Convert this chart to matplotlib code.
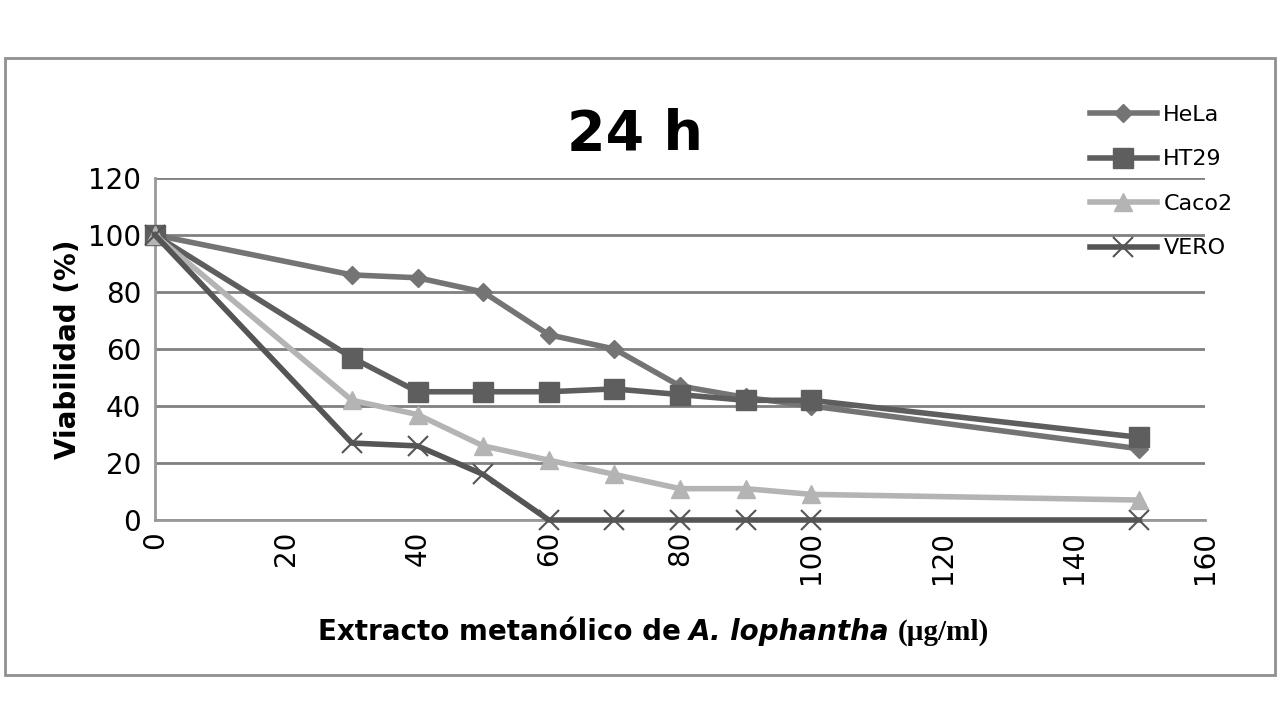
import matplotlib.pyplot as plt
from matplotlib.patches import Rectangle

# concentraciones (µg/ml) y viabilidad (%)
conc = [0, 30, 40, 50, 60, 70, 80, 90, 100, 150]
hela = [100, 86, 85, 80, 65, 60, 47, 43, 40, 25]
ht29 = [100, 57, 45, 45, 45, 46, 44, 42, 42, 29]
caco2 = [100, 42, 37, 26, 21, 16, 11, 11, 9, 7]
vero = [100, 27, 26, 16, 0, 0, 0, 0, 0, 0]

fig = plt.figure(figsize=(12.8, 7.2), dpi=100)
fig.patches.append(Rectangle((5 / 1280, 1 - 675 / 720), 1270 / 1280, 617 / 720,
                             transform=fig.transFigure, fill=False,
                             edgecolor='#909090', linewidth=2))
ax = fig.add_axes([155 / 1280, 1 - 520 / 720, 1050 / 1280, 342 / 720])

ax.plot(conc, hela, color='#747474', lw=4, marker='D', ms=9, label='HeLa', clip_on=False, zorder=5)
ax.plot(conc, ht29, color='#5e5e5e', lw=4, marker='s', ms=15, label='HT29', clip_on=False, zorder=5)
ax.plot(conc, caco2, color='#b4b4b4', lw=4, marker='^', ms=13, label='Caco2', clip_on=False, zorder=5)
ax.plot(conc, vero, color='#555555', lw=4, marker='x', ms=15, mew=1.5, label='VERO', clip_on=False, zorder=5)

ax.set_xlim(0, 160)
ax.set_ylim(0, 120)
ax.set_xticks(range(0, 161, 20))
ax.set_yticks(range(0, 121, 20))
ax.tick_params(axis='x', labelsize=20, rotation=90, length=0, pad=8)
ax.tick_params(axis='y', labelsize=20, length=0, pad=10)
ax.yaxis.grid(True, color='#808080', lw=2)
ax.set_axisbelow(True)
for s in ['top', 'right']:
    ax.spines[s].set_visible(False)
ax.spines['left'].set_color('#999999')
ax.spines['bottom'].set_color('#999999')
ax.spines['left'].set_linewidth(2)
ax.spines['bottom'].set_linewidth(2)
ax.set_ylabel('Viabilidad (%)', fontsize=20, fontweight='bold')

fig.text(635 / 1280, 1 - 135 / 720, '24 h', fontsize=40, fontweight='bold',
         ha='center', va='center')

# x label made of three pieces placed one after the other
renderer = fig.canvas.get_renderer()
x0 = 318
y0 = 1 - 632 / 720
pieces = [('Extracto metanólico de', dict(fontweight='bold'), 20, 8),
          ('A. lophantha', dict(fontweight='bold', style='italic'), 20, 8),
          ('(µg/ml)', dict(fontweight='bold', family='Liberation Serif'), 21, 0)]
for txt, kw, size, gap in pieces:
    t = fig.text(x0 / 1280, y0, txt, fontsize=size, va='center', **kw)
    x0 += t.get_window_extent(renderer).width + gap

fig.legend(loc='upper left', bbox_to_anchor=(1070 / 1280, 1 - 85 / 720),
           frameon=False, fontsize=16, handlelength=3, labelspacing=1.1,
           handletextpad=0.3)

fig.savefig('out.png')
